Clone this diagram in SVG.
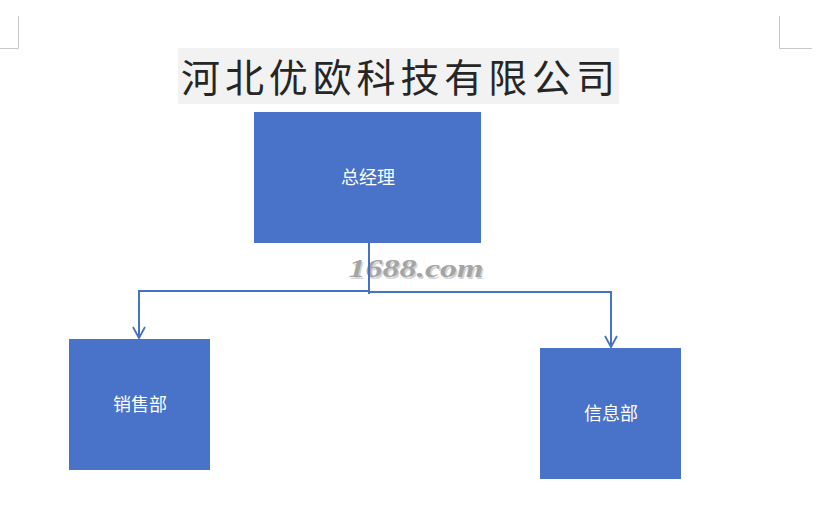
<svg xmlns="http://www.w3.org/2000/svg" width="830" height="532" viewBox="0 0 830 532">
<style>
.box{fill:#4873C8}
.lbl{fill:#ffffff;font-family:"Liberation Serif","Noto Sans CJK SC",serif;font-size:18px;text-anchor:middle;dominant-baseline:central}
.con{fill:none;stroke:#4472C4;stroke-width:2}
.mark{fill:none;stroke:#c8c8c8;stroke-width:1}
.wm{font-family:"Liberation Serif",serif;font-style:italic;font-weight:bold;font-size:25px;text-anchor:middle}
</style>
<defs>
<marker id="arr" viewBox="0 0 14 14" refX="12" refY="7" markerWidth="14" markerHeight="14" markerUnits="userSpaceOnUse" orient="auto">
<path d="M1,1 L12,7 L1,13" fill="none" stroke="#4472C4" stroke-width="1.8"/>
</marker>
</defs>
<rect width="830" height="532" fill="#ffffff"/>
<path class="mark" d="M18.5,16 V48.5 H0"/>
<path class="mark" d="M779.5,16 V48.5 H812"/>
<g id="title">
<rect x="178" y="48" width="441" height="56" fill="#f2f2f2"/>
<text x="398" y="92" font-family="Liberation Serif,'Noto Sans CJK SC',serif" font-size="39" fill="#262626" text-anchor="middle" textLength="434">河北优欧科技有限公司</text>
</g>
<g id="watermark">
<text class="wm" x="416" y="277" fill="#d4d4d4" transform="translate(1.5,1.5)" textLength="135" lengthAdjust="spacingAndGlyphs">1688.com</text>
<text class="wm" x="416" y="277" fill="#a5a5a5" textLength="135" lengthAdjust="spacingAndGlyphs">1688.com</text>
</g>
<g id="connectors">
<path class="con" d="M369,243 V294"/>
<path class="con" d="M369,291 H139 V338" marker-end="url(#arr)"/>
<path class="con" d="M369,292 H611 V347" marker-end="url(#arr)"/>
</g>
<g id="node-ceo">
<rect class="box" x="254" y="112" width="227" height="131"/>
<text class="lbl" x="368" y="178">总经理</text>
</g>
<g id="node-sales">
<rect class="box" x="69" y="339" width="141" height="131"/>
<text class="lbl" x="140" y="405">销售部</text>
</g>
<g id="node-info">
<rect class="box" x="540" y="348" width="141" height="131"/>
<text class="lbl" x="611" y="414">信息部</text>
</g>
</svg>
